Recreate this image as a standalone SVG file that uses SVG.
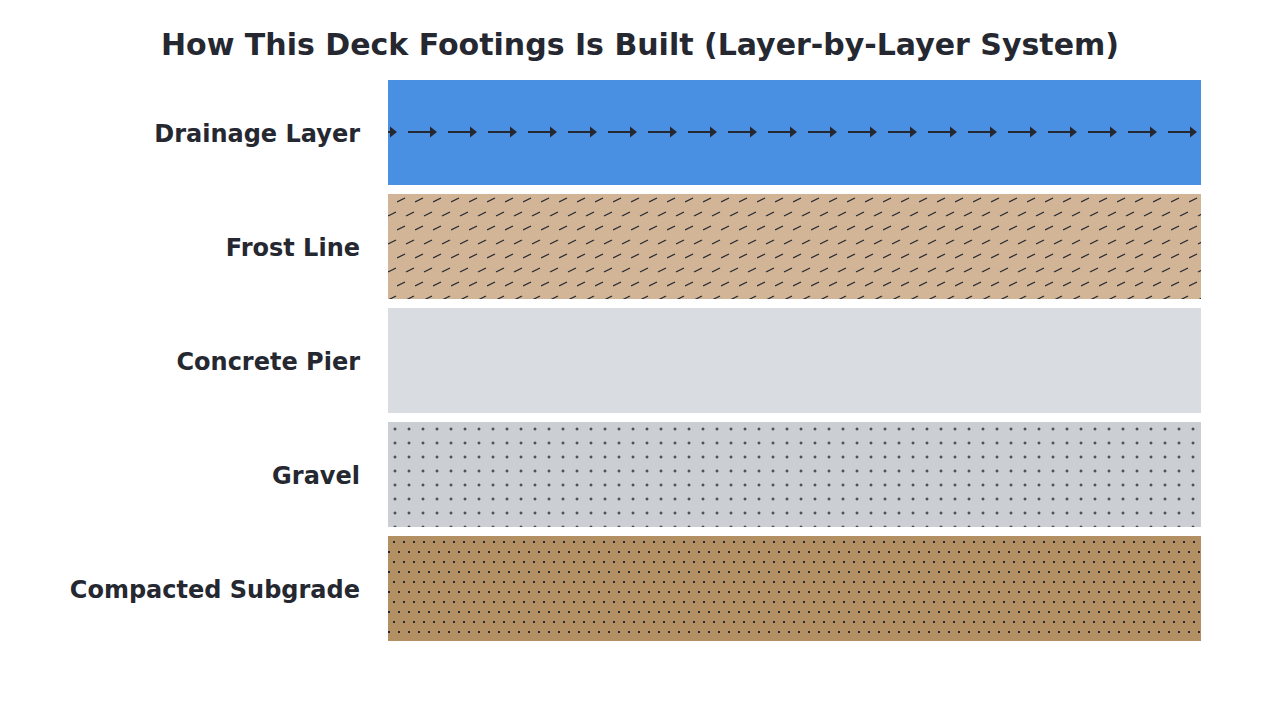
<svg xmlns="http://www.w3.org/2000/svg" width="1280" height="720" viewBox="0 0 1280 720">
<style>
.t{font-family:"DejaVu Sans",sans-serif;font-weight:bold;fill:#252830}
.lbl{font-size:24px;text-anchor:end}
</style>
<defs>
<pattern id="arr" patternUnits="userSpaceOnUse" x="408" y="80" width="40" height="105">
<line x1="0" y1="52" x2="24" y2="52" stroke="#252830" stroke-width="2"/>
<polygon points="22,46.5 29,52 22,57.5" fill="#252830"/>
</pattern>
<pattern id="frost" patternUnits="userSpaceOnUse" x="397" y="194" width="18" height="28">
<line x1="0" y1="8" x2="8" y2="4" stroke="#252830" stroke-width="1.3"/>
<line x1="9" y1="22" x2="17" y2="18" stroke="#252830" stroke-width="1.3"/>
</pattern>
<pattern id="grav" patternUnits="userSpaceOnUse" x="388" y="422" width="14" height="14">
<path d="M5.5 7H8.5M7 5.5V8.5" stroke="#252830" stroke-width="1"/>
</pattern>
<pattern id="sub" patternUnits="userSpaceOnUse" x="388" y="536" width="10" height="20">
<rect x="5" y="5" width="2" height="2" fill="#252830"/>
<rect x="10" y="15" width="2" height="2" fill="#252830"/>
<rect x="0" y="15" width="2" height="2" fill="#252830"/>
</pattern>
</defs>
<rect width="1280" height="720" fill="#fff"/>
<text class="t" x="640" y="55" font-size="30" text-anchor="middle">How This Deck Footings Is Built (Layer-by-Layer System)</text>
<g id="drainage">
<rect x="388" y="80" width="813" height="105" fill="#4a90e2"/>
<rect x="388" y="80" width="813" height="105" fill="url(#arr)"/>
<text class="t lbl" x="360" y="142">Drainage Layer</text>
</g>
<g id="frost-line">
<rect x="388" y="194" width="813" height="105" fill="#d2b597"/>
<rect x="388" y="194" width="813" height="105" fill="url(#frost)"/>
<text class="t lbl" x="360" y="256">Frost Line</text>
</g>
<g id="concrete-pier">
<rect x="388" y="308" width="813" height="105" fill="#d9dce0"/>
<text class="t lbl" x="360" y="370">Concrete Pier</text>
</g>
<g id="gravel">
<rect x="388" y="422" width="813" height="105" fill="#cbcfd4"/>
<rect x="388" y="422" width="813" height="105" fill="url(#grav)"/>
<text class="t lbl" x="360" y="484">Gravel</text>
</g>
<g id="subgrade">
<rect x="388" y="536" width="813" height="105" fill="#b38f64"/>
<rect x="388" y="536" width="813" height="105" fill="url(#sub)"/>
<text class="t lbl" x="360" y="598">Compacted Subgrade</text>
</g>
<g id="connectors"/>
</svg>
